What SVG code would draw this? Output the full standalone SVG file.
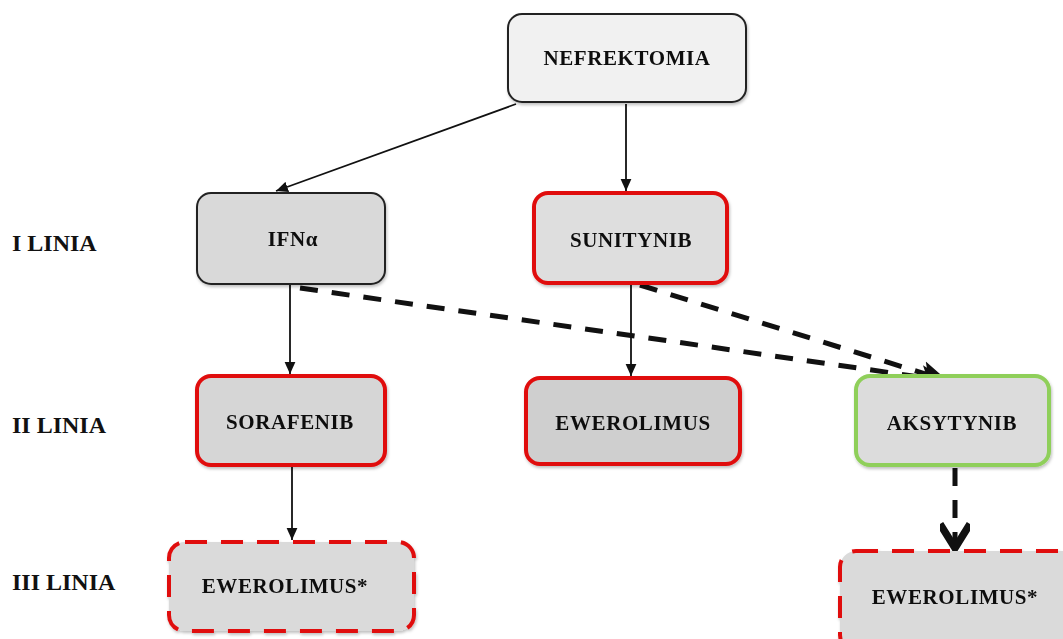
<svg xmlns="http://www.w3.org/2000/svg" width="1063" height="639" viewBox="0 0 1063 639">
<style>
.lbl{font-family:"Liberation Serif","DejaVu Serif",serif;font-weight:bold;fill:#111;}
.row{font-size:24px;}
.nt{font-size:21px;text-anchor:middle;dominant-baseline:central;letter-spacing:0.6px;}
.gray{fill:#d9d9d9;stroke:#222;stroke-width:2;}
.red{fill:#d6d6d6;stroke:#e01010;stroke-width:4;}
.green{fill:#dcdcdc;stroke:#8fcf5a;stroke-width:4;}
.dash{fill:#dadada;stroke:#e01010;stroke-width:4;stroke-dasharray:22 14;}
.solid{fill:none;stroke:#111;stroke-width:1.8;}
.dashed{fill:none;stroke:#111;stroke-width:5;stroke-dasharray:18 14;}
</style>
<defs>
<marker id="ah" viewBox="0 0 10 10" refX="10" refY="5" markerWidth="12" markerHeight="12" markerUnits="userSpaceOnUse" orient="auto">
<path d="M0,0.5 L10,5 L0,9.5 z" fill="#111"/>
</marker>
<marker id="ahb" viewBox="0 0 10 10" refX="9" refY="5" markerWidth="6" markerHeight="6" orient="auto">
<path d="M0,1 L9,5 L0,9 L2,5 z" fill="#111"/>
</marker>
<marker id="ahv" viewBox="0 0 10 10" refX="9" refY="5" markerWidth="6" markerHeight="6" orient="auto">
<path d="M1,0 L9,5 L1,10" fill="none" stroke="#111" stroke-width="2.5"/>
</marker>
<filter id="sh" x="-10%" y="-10%" width="120%" height="130%">
<feDropShadow dx="1" dy="2" stdDeviation="1.5" flood-color="#000" flood-opacity="0.25"/>
</filter>
</defs>
<rect width="1063" height="639" fill="#ffffff"/>

<g id="row-labels">
<text class="lbl row" x="12" y="251">I LINIA</text>
<text class="lbl row" x="12" y="433">II LINIA</text>
<text class="lbl row" x="12" y="590">III LINIA</text>
</g>

<g id="connectors">
<line class="solid" x1="516" y1="104" x2="276" y2="191" marker-end="url(#ah)"/>
<line class="solid" x1="626" y1="104" x2="626" y2="191" marker-end="url(#ah)"/>
<line class="solid" x1="290" y1="285" x2="290" y2="374" marker-end="url(#ah)"/>
<line class="solid" x1="631" y1="285" x2="631" y2="376" marker-end="url(#ah)"/>
<line class="solid" x1="292" y1="467" x2="292" y2="540" marker-end="url(#ah)"/>
<line class="dashed" x1="300" y1="288" x2="948" y2="381" marker-end="url(#ahb)"/>
<line class="dashed" x1="640" y1="285" x2="948" y2="381" marker-end="url(#ahb)"/>
<line class="dashed" x1="955" y1="468" x2="955" y2="548" marker-end="url(#ahv)"/>
</g>

<g id="node-nefrektomia" filter="url(#sh)">
<rect class="gray" x="508" y="14" width="238" height="88" rx="14" style="fill:#f1f1f1"/>
<text class="lbl nt" x="627" y="58">NEFREKTOMIA</text>
</g>
<g id="node-ifna" filter="url(#sh)">
<rect class="gray" x="197" y="193" width="188" height="91" rx="14"/>
<text class="lbl nt" x="293" y="239">IFNα</text>
</g>
<g id="node-sunitynib" filter="url(#sh)">
<rect class="red" x="534" y="193" width="193" height="90" rx="14" style="fill:#dedede"/>
<text class="lbl nt" x="631" y="240">SUNITYNIB</text>
</g>
<g id="node-sorafenib" filter="url(#sh)">
<rect class="red" x="197" y="376" width="188" height="89" rx="14"/>
<text class="lbl nt" x="290" y="422">SORAFENIB</text>
</g>
<g id="node-ewerolimus" filter="url(#sh)">
<rect class="red" x="526" y="378" width="214" height="86" rx="14" style="fill:#cfcfcf"/>
<text class="lbl nt" x="633" y="423">EWEROLIMUS</text>
</g>
<g id="node-aksytynib" filter="url(#sh)">
<rect class="green" x="856" y="376" width="193" height="89" rx="14"/>
<text class="lbl nt" x="952" y="423">AKSYTYNIB</text>
</g>
<g id="node-ewerolimus-3a" filter="url(#sh)">
<rect class="dash" x="169" y="542" width="245" height="89" rx="16"/>
<text class="lbl nt" x="285" y="586">EWEROLIMUS*</text>
</g>
<g id="node-ewerolimus-3b" filter="url(#sh)">
<rect class="dash" x="840" y="551" width="240" height="100" rx="16"/>
<text class="lbl nt" x="955" y="597">EWEROLIMUS*</text>
</g>
</svg>
